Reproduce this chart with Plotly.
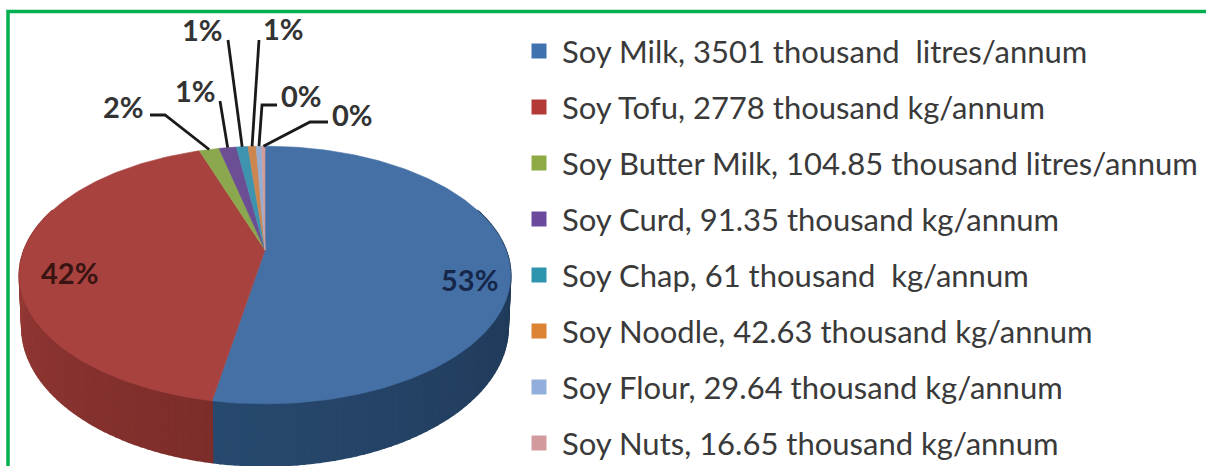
import math
import plotly.graph_objects as go

# Annual production by soy product
products = ["Soy Milk", "Soy Tofu", "Soy Butter Milk", "Soy Curd",
            "Soy Chap", "Soy Noodle", "Soy Flour", "Soy Nuts"]
amounts = [3501, 2778, 104.85, 91.35, 61, 42.63, 29.64, 16.65]
amount_text = ["3501", "2778", "104.85", "91.35", "61", "42.63", "29.64", "16.65"]
units = ["thousand  litres/annum", "thousand kg/annum", "thousand litres/annum",
         "thousand kg/annum", "thousand  kg/annum", "thousand kg/annum",
         "thousand kg/annum", "thousand kg/annum"]

top_colors = ["#4470A6", "#A8423F", "#8CA84E", "#6C4E94", "#3E93AE", "#CC8650", "#95ADD2", "#D29C9A"]
swatch_colors = ["#3F72AE", "#B23B38", "#8DAA45", "#6A4A9C", "#2F95AE", "#DC8433", "#92AEDA", "#D39A9E"]

W, H = 1206, 466
CX, CY = 265, 250          # projected pie centre
A, B, K = 241, 124, 0.194  # perspective of the tilted disc
DEPTH = 50
FONT = "Lato"
INK = "#3A3A3A"


def project(angle, radius=1.0, lower=False):
    """Clockwise angle from twelve o'clock (degrees) to canvas coordinates."""
    t = math.radians(angle)
    px, py = radius * math.sin(t), radius * math.cos(t)
    w = 1 + K * py
    shrink = 0.99 if lower else 1.0
    return (CX + A * px / w * shrink,
            CY - B * py / w + (DEPTH / w if lower else 0))


def polygon(points, color, edge=0.6):
    xs, ys = zip(*points)
    return go.Scatter(x=list(xs) + [xs[0]], y=list(ys) + [ys[0]], mode="lines",
                      fill="toself", fillcolor=color,
                      line=dict(color=color, width=edge), hoverinfo="skip", showlegend=False)


def mix(c1, c2, f):
    a = [int(c1[i:i + 2], 16) for i in (1, 3, 5)]
    b = [int(c2[i:i + 2], 16) for i in (1, 3, 5)]
    return "#" + "".join(f"{round(u + (v - u) * f):02X}" for u, v in zip(a, b))


total = sum(amounts)
shares = [v / total for v in amounts]
edges = [0.0]
for s in shares:
    edges.append(edges[-1] + s * 360)

fig = go.Figure()

# Outer wall of the two large slices, shaded band by band
wall_shades = [("#1C3450", "#28496F"), ("#7C2D2A", "#9C3C38")]
for idx, (dark_a, dark_b) in enumerate(wall_shades):
    lo, hi = edges[idx], edges[idx + 1]
    lo_vis = max(lo, 70) if idx == 0 else lo
    hi_vis = min(hi, 290) if idx == 1 else hi
    steps = max(2, int((hi_vis - lo_vis) / 1.5))
    for n in range(steps):
        a0 = lo_vis + (hi_vis - lo_vis) * n / steps
        a1 = lo_vis + (hi_vis - lo_vis) * (n + 1) / steps
        f = (n + 0.5) / steps
        pts = [project(a0), project(a1), project(a1, lower=True), project(a0, lower=True)]
        fig.add_trace(polygon(pts, mix(dark_a, dark_b, f), edge=1.6))

# Top face
for i, color in enumerate(top_colors):
    lo, hi = edges[i], edges[i + 1]
    steps = max(4, int(hi - lo))
    pts = [project(lo + (hi - lo) * n / steps) for n in range(steps + 1)]
    fig.add_trace(polygon([(CX, CY)] + pts, color))

# Callouts for the thin slices: elbow points above the rim
percent = [f"{round(s * 100)}%" for s in shares]
callouts = {
    2: {"path": [(150, 115), (165, 115)], "label": (123, 106)},
    3: {"path": [(220, 101)], "label": (195, 90)},
    4: {"path": [(228, 40)], "label": (202, 29)},
    5: {"path": [(259, 40)], "label": (283, 28)},
    6: {"path": [(277, 105), (262, 105)], "label": (301, 95)},
    7: {"path": [(328, 122), (310, 122)], "label": (352, 114)},
}
for i, c in callouts.items():
    end = project((edges[i] + edges[i + 1]) / 2)
    pts = c["path"] + [end]
    fig.add_trace(go.Scatter(x=[p[0] for p in pts], y=[p[1] for p in pts], mode="lines",
                             line=dict(color="#1A1A1A", width=2.8), hoverinfo="skip", showlegend=False))

annotations = []


def note(x, y, text, size, color, anchor="center"):
    annotations.append(dict(x=x, y=y, xref="x", yref="y", text=text, showarrow=False,
                            xanchor=anchor, yanchor="middle", borderpad=0,
                            font=dict(family=FONT, size=size, color=color)))


for i, c in callouts.items():
    note(*c["label"], f"<b>{percent[i]}</b>", 29, "#333333")
note(69, 272, f"<b>{percent[1]}</b>", 29, "#3A1412")
note(469, 279, f"<b>{percent[0]}</b>", 29, "#16274A")

# Legend column
row_y = [51, 107, 163, 219, 275, 331, 387, 443]
fig.add_trace(go.Scatter(x=[539] * len(row_y), y=row_y, mode="markers",
                         marker=dict(symbol="square", size=15, color=swatch_colors, line_width=0),
                         hoverinfo="skip", showlegend=False))
for name, amt, unit, y in zip(products, amount_text, units, row_y):
    note(561, y, f"{name}, {amt} {unit}", 31, INK, "left")

fig.update_layout(
    width=W, height=H, margin=dict(l=0, r=0, t=0, b=0),
    paper_bgcolor="white", plot_bgcolor="white", showlegend=False,
    xaxis=dict(range=[0, W], visible=False, fixedrange=True),
    yaxis=dict(range=[H, 0], visible=False, fixedrange=True),
    annotations=annotations,
    shapes=[dict(type="rect", xref="x", yref="y", x0=8, y0=11.5, x1=W + 5, y1=H + 5,
                 line=dict(color="#00B050", width=3.5), layer="above")],
)

fig.write_html("out.html", config={"displayModeBar": False})
